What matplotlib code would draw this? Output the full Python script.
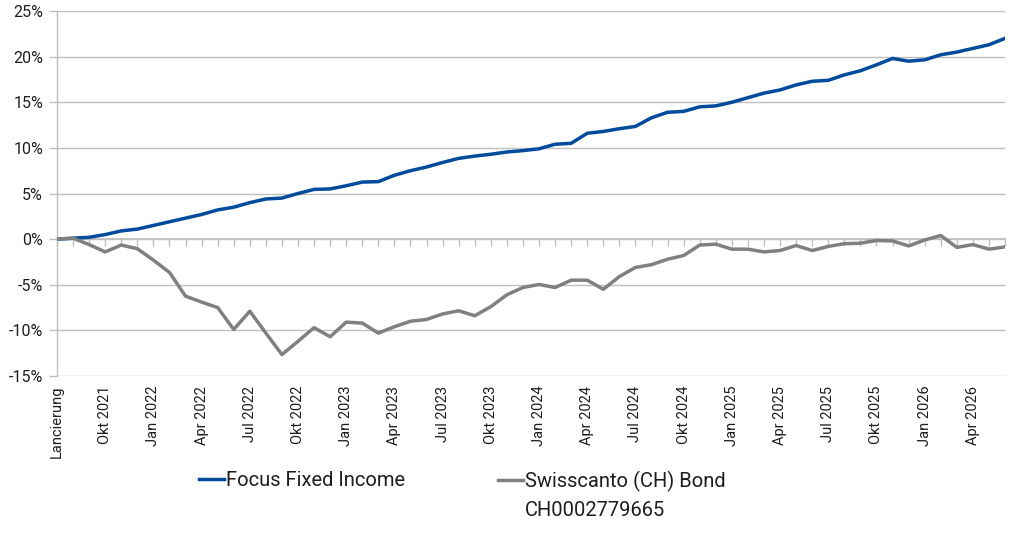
import matplotlib
matplotlib.use("Agg")
import matplotlib.pyplot as plt
from matplotlib.lines import Line2D

plt.rcParams['font.family'] = ['Roboto', 'DejaVu Sans']

# monthly categories, Jul 2021 (launch) .. Jun 2026
months_de = ["Jan", "Feb", "Mär", "Apr", "Mai", "Jun",
             "Jul", "Aug", "Sep", "Okt", "Nov", "Dez"]
categories = ["Lancierung"]
for k in range(1, 60):
    m = (6 + k) % 12
    y = 2021 + (6 + k) // 12
    categories.append(months_de[m] + " " + str(y))

focus = [0.0, 0.1, 0.2, 0.5, 0.9, 1.1, 1.5, 1.9, 2.3, 2.7,
         3.2, 3.5, 4.0, 4.4, 4.5, 5.0, 5.45, 5.5, 5.85, 6.25,
         6.3, 7.0, 7.5, 7.9, 8.4, 8.85, 9.1, 9.3, 9.55, 9.7,
         9.9, 10.4, 10.5, 11.6, 11.8, 12.1, 12.35, 13.3, 13.9, 14.0,
         14.5, 14.6, 15.0, 15.5, 16.0, 16.35, 16.9, 17.3, 17.4, 18.0,
         18.45, 19.1, 19.8, 19.5, 19.65, 20.2, 20.5, 20.9, 21.3, 22.0]

swisscanto = [0.0, 0.1, -0.6, -1.4, -0.65, -1.05, -2.3, -3.65, -6.25, -6.9,
              -7.5, -9.9, -7.9, -10.3, -12.65, -11.2, -9.7, -10.7, -9.1, -9.2,
              -10.3, -9.6, -9.0, -8.8, -8.2, -7.85, -8.4, -7.4, -6.1, -5.3,
              -4.97, -5.3, -4.5, -4.5, -5.5, -4.1, -3.1, -2.8, -2.2, -1.8,
              -0.65, -0.55, -1.1, -1.1, -1.4, -1.25, -0.7, -1.25, -0.8, -0.5,
              -0.45, -0.15, -0.2, -0.75, -0.1, 0.4, -0.9, -0.6, -1.1, -0.85]

y_ticks = [-15, -10, -5, 0, 5, 10, 15, 20, 25]

BLUE = '#004B9B'
GREY = '#808080'
GRID = '#BFBFBF'
TXT = '#1E1E1E'

fig = plt.figure(figsize=(10.24, 5.33), dpi=100)
ax = fig.add_axes([57/1024, 1 - 376/533, (1005 - 57)/1024, (376 - 11)/533])

x = list(range(len(categories)))
ax.plot(x, focus, color=BLUE, lw=2.5, solid_joinstyle='round', zorder=3)
ax.plot(x, swisscanto, color=GREY, lw=2.5, solid_joinstyle='round', zorder=3)

ax.set_xlim(0, len(categories) - 1)
ax.set_ylim(-15, 25)
ax.set_yticks(y_ticks)
ax.set_yticklabels([f"{v}%" for v in y_ticks])
ax.grid(axis='y', color=GRID, lw=1)
ax.set_axisbelow(True)

for s in ['top', 'right', 'bottom']:
    ax.spines[s].set_visible(False)
ax.spines['left'].set_color(GRID)
ax.spines['left'].set_linewidth(1)
ax.tick_params(axis='y', direction='out', length=6, color=GRID, width=1,
               labelsize=11.5, labelcolor=TXT, pad=4)

# labels every 3rd month at the bottom
ax.set_xticks(x[::3])
ax.set_xticklabels(categories[::3], rotation=90, va='top', ha='center')
ax.tick_params(axis='x', length=0, labelsize=10.5, labelcolor=TXT, pad=7)

# category axis with tick marks at the 0% line
zero_pos = (0 - (-15)) / 40
sec = ax.secondary_xaxis(zero_pos)
sec.set_xticks(x)
sec.tick_params(axis='x', direction='out', length=5, color=GRID, width=1,
                labelbottom=False, labeltop=False)
sec.spines['bottom'].set_color(GRID)
sec.spines['bottom'].set_linewidth(1.2)

# legend
leg_y = 1 - 481/533
h1 = Line2D([], [], color=BLUE, lw=2.5)
h2 = Line2D([], [], color=GREY, lw=2.5)
leg1 = fig.legend([h1], ["Focus Fixed Income"], loc='center left',
                  bbox_to_anchor=(199/1024, leg_y), frameon=False,
                  fontsize=14.5, handlelength=1.25, handletextpad=0.1,
                  borderpad=0, borderaxespad=0, labelcolor=TXT)
leg2 = fig.legend([h2], ["Swisscanto (CH) Bond"], loc='center left',
                  bbox_to_anchor=(498/1024, leg_y), frameon=False,
                  fontsize=14.5, handlelength=1.25, handletextpad=0.1,
                  borderpad=0, borderaxespad=0, labelcolor=TXT)

fig.canvas.draw()
bb = leg2.get_texts()[0].get_window_extent()
fig.text(bb.x0 / fig.bbox.width, 1 - 510/533, "CH0002779665",
         fontsize=14.5, color=TXT, va='center', ha='left')

fig.savefig("out.png", dpi=100)
